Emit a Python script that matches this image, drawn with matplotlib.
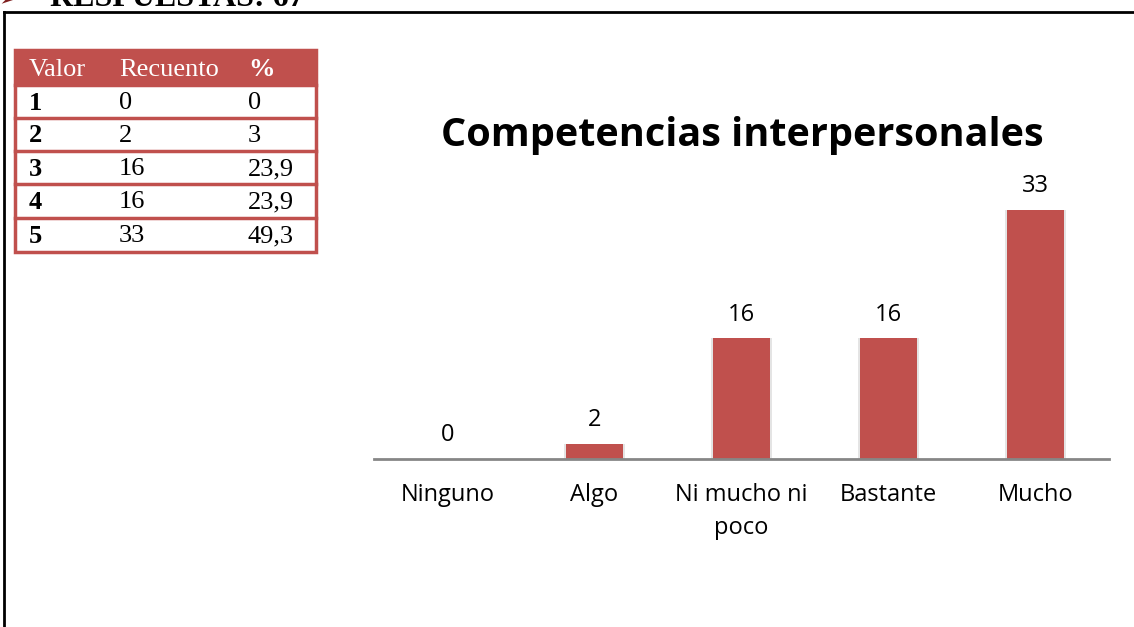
import matplotlib.pyplot as plt
from matplotlib.patches import Rectangle

# Data
categories = ["Ninguno", "Algo", "Ni mucho ni\npoco", "Bastante", "Mucho"]
counts = [0, 2, 16, 16, 33]
table_header = ["Valor", "Recuento", "%"]
table_values = ["1", "2", "3", "4", "5"]
table_counts = ["0", "2", "16", "16", "33"]
table_pct = ["0", "3", "23,9", "23,9", "49,3"]
title = "Competencias interpersonales"
top_text = "RESPUESTAS: 67"

RED = "#C0504D"
W, H = 1134, 627

fig = plt.figure(figsize=(W / 100, H / 100), dpi=100)

# overlay in pixel coords for the frame and the table
bg = fig.add_axes([0, 0, 1, 1])
bg.set_xlim(0, W)
bg.set_ylim(H, 0)
bg.axis("off")

# frame
bg.plot([4, 4], [12, H], color="black", lw=2)
bg.plot([4, W], [12, 12], color="black", lw=2)

# heading above the frame (cut off by the page edge, as in the source)
bg.text(-2, 6, "\u27a2", color="#7f1f1f", fontsize=17, family="DejaVu Sans",
        va="baseline", ha="left")
bg.text(50, 6, top_text, fontsize=23, fontweight="bold", family="Liberation Serif",
        va="baseline", ha="left")

# table
tx0, tx1 = 15, 316
row_y = [50, 85, 118, 151, 184, 218, 252]
col_x = [29, 119, 248]
bg.add_patch(Rectangle((tx0, row_y[0]), tx1 - tx0, row_y[1] - row_y[0],
                       facecolor=RED, edgecolor=RED, lw=0))
bg.add_patch(Rectangle((tx0, row_y[0]), tx1 - tx0, row_y[-1] - row_y[0],
                       facecolor="none", edgecolor=RED, lw=2.5))
for yy in row_y[1:-1]:
    bg.plot([tx0, tx1], [yy, yy], color=RED, lw=2.5)
hy = (row_y[0] + row_y[1]) / 2 + 2
for x, lab in zip(col_x, table_header):
    bg.text(x, hy, lab, color="white", fontsize=19, family="Liberation Serif",
            fontweight="bold" if lab == "%" else "normal", va="center", ha="left")
for i in range(len(table_values)):
    cy = (row_y[i + 1] + row_y[i + 2]) / 2 + 1.5
    bg.text(col_x[0], cy, table_values[i], fontsize=19, family="Liberation Serif",
            fontweight="bold", va="center", ha="left")
    bg.text(col_x[1], cy, table_counts[i], fontsize=19, family="Liberation Serif",
            va="center", ha="left")
    bg.text(col_x[2], cy, table_pct[i], fontsize=19, family="Liberation Serif",
            va="center", ha="left")

# bar chart
ax_left, ax_right = 374, 1109
ax_bottom, ax_top = 459, 160
ax = fig.add_axes([ax_left / W, 1 - ax_bottom / H,
                   (ax_right - ax_left) / W, (ax_bottom - ax_top) / H])
ax.patch.set_alpha(0)
scale = 249 / 33  # px per unit
ax.set_ylim(0, (ax_bottom - ax_top) / scale)
ax.set_xlim(-0.5, len(categories) - 0.5)

x = list(range(len(categories)))
# soft shadow
ax.bar(x, counts, width=0.42, color="#e4e4e4", zorder=1)
ax.bar(x, counts, width=0.39, color=RED, zorder=2)
for xi, v in zip(x, counts):
    ax.annotate(str(v), (xi, v), xytext=(0, 17), textcoords="offset points",
                ha="center", va="center", fontsize=17, family="Open Sans")

for s in ["top", "right", "left"]:
    ax.spines[s].set_visible(False)
ax.spines["bottom"].set_color("#868686")
ax.spines["bottom"].set_linewidth(2)
ax.set_yticks([])
ax.set_xticks(x)
ax.set_xticklabels(categories, fontsize=17, family="Open Sans", linespacing=1.5,
                   va="top")
ax.tick_params(axis="x", length=0, pad=17.5)

fig.text(742 / W, 1 - 136 / H, title, fontsize=28.5, fontweight="bold",
         family="Open Sans", ha="center", va="center")

fig.savefig("out.png", dpi=100)
